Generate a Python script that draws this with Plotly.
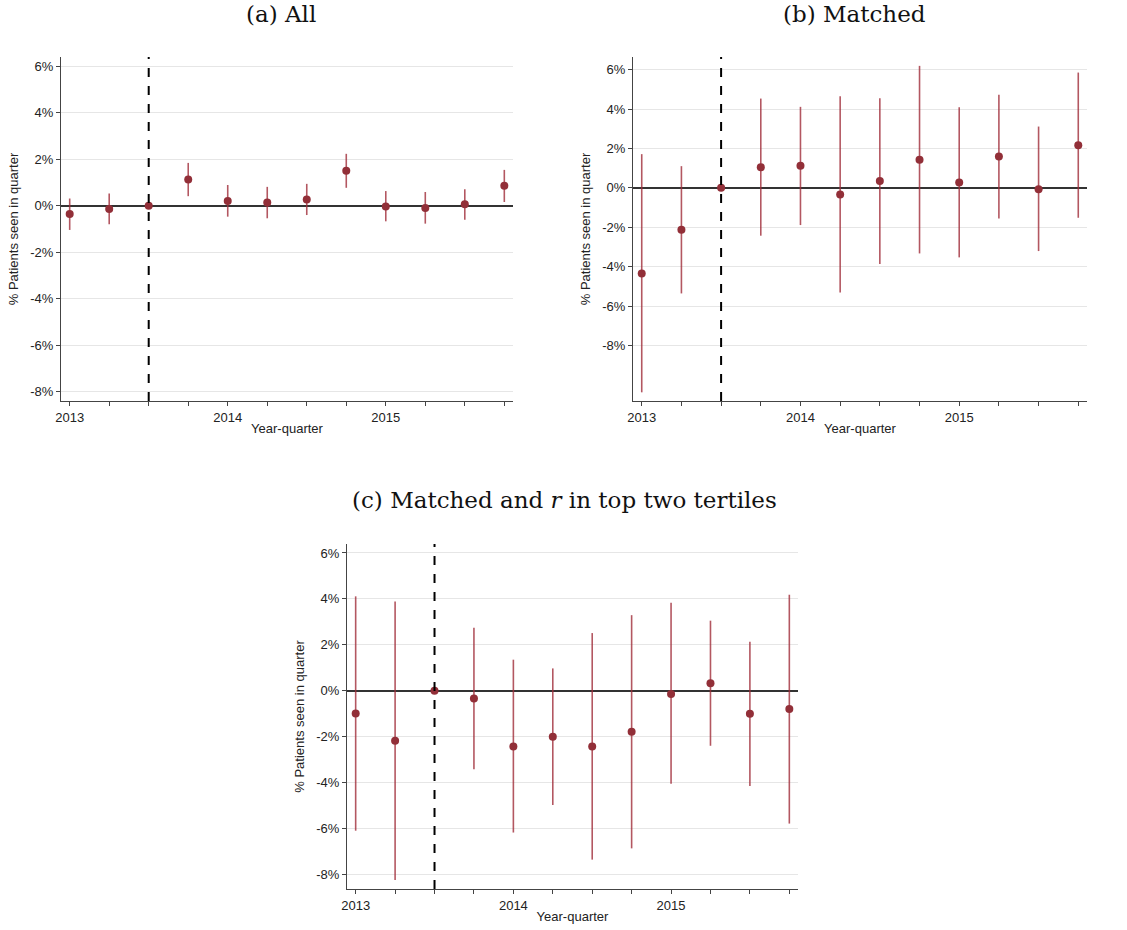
import plotly.graph_objects as go

quarters = ["2013q1", "2013q2", "2013q3", "2013q4", "2014q1", "2014q2", "2014q3", "2014q4",
            "2015q1", "2015q2", "2015q3", "2015q4"]
year_labels = {"2013q1": "2013", "2014q1": "2014", "2015q1": "2015"}
event_quarter = "2013q3"

# (a) All
a_est = [-0.36, -0.14, 0.00, 1.13, 0.20, 0.14, 0.27, 1.50, -0.03, -0.10, 0.06, 0.86]
a_hi = [0.31, 0.53, 0.00, 1.84, 0.89, 0.81, 0.94, 2.23, 0.63, 0.59, 0.71, 1.54]
a_lo = [-1.04, -0.80, 0.00, 0.41, -0.47, -0.54, -0.40, 0.77, -0.67, -0.77, -0.60, 0.16]

# (b) Matched
b_est = [-4.35, -2.13, 0.00, 1.05, 1.12, -0.34, 0.34, 1.42, 0.27, 1.59, -0.07, 2.16]
b_hi = [1.71, 1.10, 0.00, 4.53, 4.11, 4.65, 4.55, 6.19, 4.09, 4.72, 3.11, 5.85]
b_lo = [-10.38, -5.36, 0.00, -2.43, -1.89, -5.31, -3.87, -3.33, -3.53, -1.56, -3.21, -1.52]

# (c) Matched and r in top two tertiles
c_est = [-0.99, -2.18, 0.00, -0.34, -2.43, -2.01, -2.43, -1.79, -0.14, 0.32, -1.00, -0.80]
c_hi = [4.11, 3.89, 0.00, 2.74, 1.35, 0.97, 2.51, 3.29, 3.83, 3.05, 2.13, 4.18]
c_lo = [-6.10, -8.25, 0.00, -3.42, -6.18, -4.98, -7.36, -6.87, -4.06, -2.40, -4.15, -5.79]

ytick_vals = [-8, -6, -4, -2, 0, 2, 4, 6]
ytick_text = [f"{v}%" for v in ytick_vals]

titles = ["(a) All", "(b) Matched", "(c) Matched and <i>r</i> in top two tertiles"]

W, H = 1127, 930
# pixel boxes: (left, right, top, bottom)
boxes = [(61, 513, 57, 401), (633, 1087, 57, 401), (347, 798, 544, 889)]
yranges = [[-8.39, 6.39], [-10.82, 6.64], [-8.64, 6.39]]
title_pos = [(281, 14), (854, 14), (564, 500)]

xs = list(range(len(quarters)))
event_x = quarters.index(event_quarter)

fig = go.Figure()
marker_color = "#922f38"
bar_color = "rgba(160,45,58,0.8)"
sans = "Liberation Sans, Arial, sans-serif"
serif = "DejaVu Serif, Liberation Serif, serif"

for i, (est, hi, lo) in enumerate([(a_est, a_hi, a_lo), (b_est, b_hi, b_lo), (c_est, c_hi, c_lo)]):
    xa = "x" if i == 0 else f"x{i+1}"
    ya = "y" if i == 0 else f"y{i+1}"
    fig.add_trace(go.Scatter(
        x=xs, y=est, mode="markers", xaxis=xa, yaxis=ya,
        marker=dict(color=marker_color, size=8),
        error_y=dict(type="data", symmetric=False,
                     array=[h - e for h, e in zip(hi, est)],
                     arrayminus=[e - l for e, l in zip(est, lo)],
                     color=bar_color, thickness=1.6, width=0),
        showlegend=False))
    l, r, t, b = boxes[i]
    axkey = "xaxis" if i == 0 else f"xaxis{i+1}"
    aykey = "yaxis" if i == 0 else f"yaxis{i+1}"
    fig.update_layout(**{
        axkey: dict(domain=[l / W, r / W], anchor=ya, range=[-0.22, 11.22], automargin=False,
                    tickvals=xs, ticktext=[year_labels.get(q, "") for q in quarters],
                    ticks="outside", ticklen=4, tickcolor="#444", showgrid=False,
                    showline=True, linecolor="#444", linewidth=1, zeroline=False,
                    tickfont=dict(family=sans, size=13, color="#222"),
                    title=dict(text="Year-quarter", font=dict(family=sans, size=13, color="#222"), standoff=0)),
        aykey: dict(domain=[1 - b / H, 1 - t / H], anchor=xa, range=yranges[i], automargin=False,
                    tickvals=ytick_vals, ticktext=ytick_text,
                    ticks="outside", ticklen=4, tickcolor="#444",
                    showgrid=True, gridcolor="#e6e6e6", gridwidth=1,
                    showline=True, linecolor="#444", linewidth=1,
                    zeroline=True, zerolinecolor="#333", zerolinewidth=1.5,
                    tickfont=dict(family=sans, size=13, color="#222"),
                    title=dict(text="% Patients seen in quarter", font=dict(family=sans, size=13, color="#222"), standoff=8)),
    })
    fig.add_shape(type="line", xref=xa, yref=f"{ya} domain", x0=event_x, x1=event_x, y0=0, y1=1,
                  line=dict(color="black", width=2, dash="dash"))
    tx, ty = title_pos[i]
    fig.add_annotation(text=titles[i], xref="paper", yref="paper", x=tx / W, y=1 - ty / H,
                       xanchor="center", yanchor="middle", showarrow=False,
                       font=dict(family=serif, size=23, color="#111"))

fig.update_layout(width=W, height=H, margin=dict(l=0, r=0, t=0, b=0),
                  paper_bgcolor="white", plot_bgcolor="white")
fig.write_html("out.html")
